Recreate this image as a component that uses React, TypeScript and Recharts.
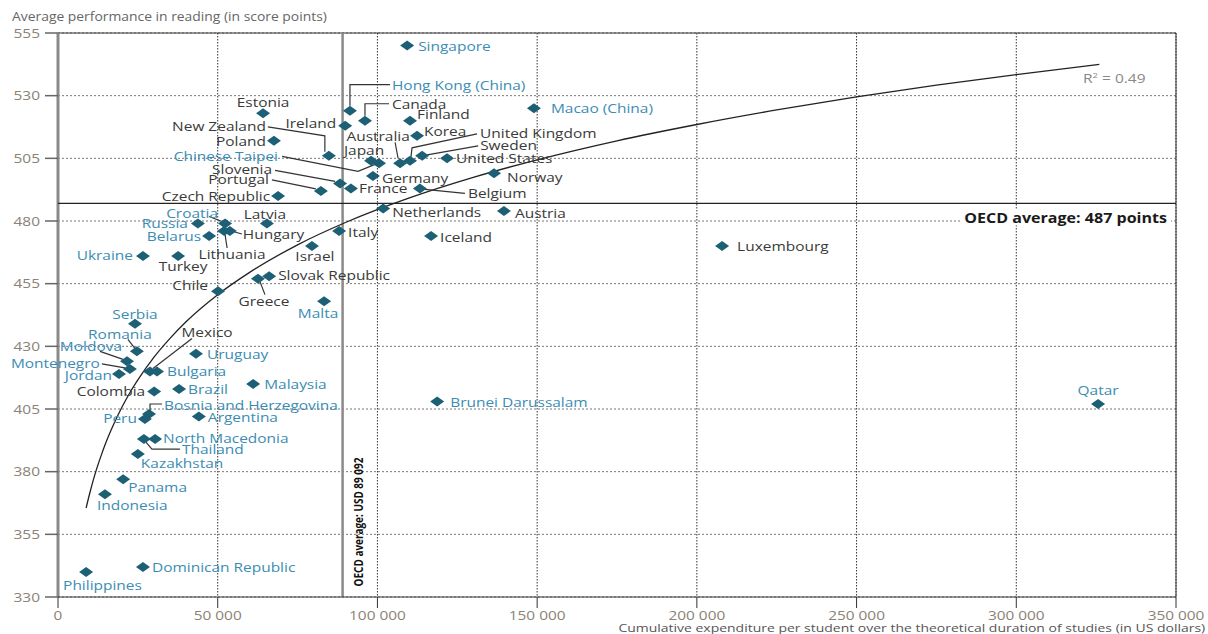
import React from 'react';
import { ScatterChart, Scatter, XAxis, YAxis, CartesianGrid, ReferenceLine } from 'recharts';

// ---------- DATA ----------
const xTicks = [0, 50000, 100000, 150000, 200000, 250000, 300000, 350000];
const yTicks = [330, 355, 380, 405, 430, 455, 480, 505, 530, 555];

const countryNames = [
  'Singapore', 'Hong Kong (China)', 'Canada', 'Ireland', 'Estonia', 'Finland', 'Korea', 'New Zealand',
  'Poland', 'Chinese Taipei', 'Japan', 'Australia', 'United Kingdom', 'Sweden', 'United States', 'Germany',
  'Slovenia', 'Portugal', 'France', 'Czech Republic', 'Belgium', 'Norway', 'Netherlands', 'Austria',
  'Macao (China)', 'Luxembourg', 'Qatar', 'Brunei Darussalam', 'Iceland', 'Italy', 'Israel', 'Latvia',
  'Croatia', 'Russia', 'Belarus', 'Hungary', 'Lithuania', 'Ukraine', 'Turkey', 'Slovak Republic',
  'Greece', 'Chile', 'Malta', 'Serbia', 'Romania', 'Moldova', 'Montenegro', 'Jordan',
  'Mexico', 'Bulgaria', 'Uruguay', 'Malaysia', 'Colombia', 'Brazil', 'Bosnia and Herzegovina', 'Peru',
  'Argentina', 'North Macedonia', 'Thailand', 'Kazakhstan', 'Panama', 'Indonesia', 'Dominican Republic', 'Philippines',
];

// Cumulative expenditure per student (USD)
const expenditure = [
  109300, 91400, 96100, 89900, 64200, 110200, 112400, 84800,
  67600, 100500, 98000, 107100, 110200, 114000, 121800, 98600,
  88300, 82300, 91700, 68900, 113300, 136500, 101800, 139600,
  149000, 207900, 325600, 118700, 116800, 88000, 79500, 65400,
  52300, 43800, 47300, 53800, 52000, 26600, 37600, 66100,
  62600, 50100, 83300, 24100, 24700, 21600, 22500, 19100,
  28800, 31000, 43200, 61100, 30100, 37900, 28500, 27200,
  44100, 30400, 26900, 25000, 20400, 14700, 26600, 8800,
];

// Average reading performance (score points)
const reading = [
  550, 524, 520, 518, 523, 520, 514, 506,
  512, 503, 504, 503, 504, 506, 505, 498,
  495, 492, 493, 490, 493, 499, 485, 484,
  525, 470, 407, 408, 474, 476, 470, 479,
  479, 479, 474, 476, 476, 466, 466, 458,
  457, 452, 448, 439, 428, 424, 421, 419,
  420, 420, 427, 415, 412, 413, 403, 401,
  402, 393, 393, 387, 377, 371, 342, 340,
];

const oecdMembers = [
  'Canada', 'Ireland', 'Estonia', 'Finland', 'Korea', 'New Zealand', 'Poland', 'Japan', 'Australia',
  'United Kingdom', 'Sweden', 'United States', 'Germany', 'Slovenia', 'Portugal', 'France', 'Czech Republic',
  'Belgium', 'Norway', 'Netherlands', 'Austria', 'Luxembourg', 'Iceland', 'Italy', 'Israel', 'Latvia',
  'Hungary', 'Lithuania', 'Turkey', 'Slovak Republic', 'Greece', 'Chile', 'Mexico', 'Colombia',
];

// Fitted trend curve
const trendX = [8800, 9500, 10000, 11000, 12000, 13500, 15000, 17500, 20000, 22500, 25000, 30000, 35000,
  40000, 50000, 60000, 75000, 90000, 110000, 130000, 150000, 175000, 200000, 225000, 250000, 275000, 300000, 326000];
const trendY = [365.5, 369.2, 371.7, 376.4, 380.7, 386.4, 391.6, 399.1, 405.7, 411.5, 416.6, 425.6, 433.1,
  439.7, 450.6, 459.5, 470.5, 479.4, 489.2, 497.4, 504.4, 512.0, 518.5, 524.3, 529.5, 534.2, 538.4, 542.5];

const oecdAvgExpenditure = 89092;
const oecdAvgReading = 487;

const countries = countryNames.map((name, i) => ({
  name, x: expenditure[i], y: reading[i], oecd: oecdMembers.includes(name),
}));
const trendData = trendX.map((x, i) => ({ x, y: trendY[i] }));

// ---------- LABEL LAYOUT (pixel offsets from each marker) ----------
type Lay = { dx: number; dy: number; anchor?: 'start' | 'end' | 'middle'; leader?: number[][] };
const labelLayout: Record<string, Lay> = {
  'Singapore': { dx: 11, dy: 0 },
  'Hong Kong (China)': { dx: 42, dy: -26, leader: [[0, -5], [0, -26], [40, -26]] },
  'Canada': { dx: 27, dy: -17, leader: [[0, -5], [0, -17], [24, -17]] },
  'Ireland': { dx: -9, dy: -3, anchor: 'end' },
  'Estonia': { dx: 0, dy: -11, anchor: 'middle' },
  'Finland': { dx: 7, dy: -7 },
  'Korea': { dx: 7, dy: -5 },
  'New Zealand': { dx: -63, dy: -30, anchor: 'end', leader: [[-4, -4], [-4, -20], [-61, -29]] },
  'Poland': { dx: -8, dy: 0, anchor: 'end' },
  'Chinese Taipei': { dx: -101, dy: -7, anchor: 'end', leader: [[-4, 1], [-21, 8], [-97, -7]] },
  'Japan': { dx: -7, dy: -11, anchor: 'middle' },
  'Australia': { dx: -22, dy: -27, anchor: 'middle', leader: [[-2, -5], [-5, -21]] },
  'United Kingdom': { dx: 70, dy: -28, leader: [[1, -4], [2, -13], [67, -27]] },
  'Sweden': { dx: 58, dy: -11, leader: [[5, -1], [56, -10]] },
  'United States': { dx: 9, dy: 0 },
  'Germany': { dx: 9, dy: 2 },
  'Slovenia': { dx: -68, dy: -14, anchor: 'end', leader: [[-5, -2], [-65, -13]] },
  'Portugal': { dx: -52, dy: -12, anchor: 'end', leader: [[-5, -2], [-49, -11]] },
  'France': { dx: 8, dy: 0 },
  'Czech Republic': { dx: -8, dy: 0, anchor: 'end' },
  'Belgium': { dx: 48, dy: 5, leader: [[5, 1], [45, 5]] },
  'Norway': { dx: 13, dy: 4 },
  'Netherlands': { dx: 9, dy: 4 },
  'Austria': { dx: 11, dy: 2 },
  'Macao (China)': { dx: 17, dy: 0 },
  'Luxembourg': { dx: 15, dy: 0 },
  'Qatar': { dx: 0, dy: -14, anchor: 'middle' },
  'Brunei Darussalam': { dx: 13, dy: 1 },
  'Iceland': { dx: 9, dy: 1 },
  'Italy': { dx: 9, dy: 1 },
  'Israel': { dx: 3, dy: 10, anchor: 'middle' },
  'Latvia': { dx: -2, dy: -10, anchor: 'middle' },
  'Croatia': { dx: -7, dy: -11, anchor: 'end', leader: [[-3, -2], [-16, -7]] },
  'Russia': { dx: -10, dy: -1, anchor: 'end' },
  'Belarus': { dx: -8, dy: 0, anchor: 'end' },
  'Hungary': { dx: 13, dy: 3, leader: [[5, 1], [12, 3]] },
  'Lithuania': { dx: 8, dy: 23, anchor: 'middle', leader: [[1, 4], [3, 17]] },
  'Ukraine': { dx: -10, dy: -1, anchor: 'end' },
  'Turkey': { dx: 5, dy: 10, anchor: 'middle' },
  'Slovak Republic': { dx: 9, dy: -1 },
  'Greece': { dx: 6, dy: 22, anchor: 'middle', leader: [[2, 3], [7, 16]] },
  'Chile': { dx: -10, dy: -6, anchor: 'end' },
  'Malta': { dx: -6, dy: 12, anchor: 'middle' },
  'Serbia': { dx: 0, dy: -10, anchor: 'middle' },
  'Romania': { dx: -17, dy: -17, anchor: 'middle', leader: [[-2, -3], [-9, -12]] },
  'Moldova': { dx: -5, dy: -15, anchor: 'end', leader: [[-4, -2], [-27, -10]] },
  'Montenegro': { dx: -30, dy: -6, anchor: 'end', leader: [[-5, -1], [-28, -5]] },
  'Jordan': { dx: -7, dy: 1, anchor: 'end' },
  'Mexico': { dx: 57, dy: -39, anchor: 'middle', leader: [[3, -3], [42, -33]] },
  'Bulgaria': { dx: 10, dy: 0 },
  'Uruguay': { dx: 11, dy: 0 },
  'Malaysia': { dx: 11, dy: 0 },
  'Colombia': { dx: -9, dy: 0, anchor: 'end' },
  'Brazil': { dx: 9, dy: 0 },
  'Bosnia and Herzegovina': { dx: 15, dy: -9, leader: [[1, -3], [1, -10], [13, -10]] },
  'Peru': { dx: -8, dy: -1, anchor: 'end' },
  'Argentina': { dx: 9, dy: 0 },
  'North Macedonia': { dx: 8, dy: -1 },
  'Thailand': { dx: 38, dy: 10, leader: [[2, 3], [8, 10], [36, 10]] },
  'Kazakhstan': { dx: 3, dy: 9 },
  'Panama': { dx: 5, dy: 8 },
  'Indonesia': { dx: -8, dy: 11 },
  'Dominican Republic': { dx: 9, dy: 0 },
  'Philippines': { dx: -23, dy: 13 },
};

// ---------- STYLES ----------
const FONT = '"Open Sans", "Noto Sans", sans-serif';
const BLUE = '#3b8cb3';
const DARK = '#3a3a3a';
const MARKER = '#1d6075';
const TICK_COLOR = '#8a8275';
const SX = 1.19; // horizontal stretch of the reference's lettering

const fmt = (v: number) => String(v).replace(/\B(?=(\d{3})+(?!\d))/g, ' ');

const renderPoint = (props: any) => {
  const { cx, cy, payload } = props;
  if (cx == null || cy == null) return <g />;
  const lay: Lay = labelLayout[payload.name] || { dx: 9, dy: 0 };
  const color = payload.oecd ? DARK : BLUE;
  return (
    <g>
      {lay.leader && (
        <polyline
          points={lay.leader.map(([a, b]) => `${cx + a},${cy + b}`).join(' ')}
          fill="none" stroke="#333" strokeWidth={1.2}
        />
      )}
      <polygon points={`${cx},${cy - 5} ${cx + 7},${cy} ${cx},${cy + 5} ${cx - 7},${cy}`} fill={MARKER} />
      <g transform={`translate(${cx + lay.dx},${cy + lay.dy}) scale(${SX},1)`}>
        <text x={0} y={0} textAnchor={lay.anchor || 'start'} dominantBaseline="central"
          fontSize={13} fill={color} fontFamily={FONT}>
          {payload.name}
        </text>
      </g>
    </g>
  );
};

const noShape = () => <g />;

const XTick = (props: any) => {
  const { x, y, payload } = props;
  return (
    <g transform={`translate(${x},${y}) scale(1.23,1)`}>
      <text x={0} y={0} dy="0.71em" textAnchor="middle" fontSize={12.5} fill={TICK_COLOR} fontFamily={FONT}>
        {fmt(payload.value)}
      </text>
    </g>
  );
};

const YTick = (props: any) => {
  const { x, y, payload } = props;
  return (
    <g transform={`translate(${x},${y}) scale(${SX},1)`}>
      <text x={0} y={0} dy="0.355em" textAnchor="end" fontSize={13} fill={TICK_COLOR} fontFamily={FONT}>
        {payload.value}
      </text>
    </g>
  );
};

const VerticalOecdLabel = (props: any) => {
  const vb = props.viewBox || {};
  const x = vb.x + 15;
  const y = vb.y + vb.height - 75;
  return (
    <g transform={`translate(${x},${y}) rotate(-90) scale(0.83,1.05)`}>
      <text x={0} y={0} textAnchor="middle" dominantBaseline="central"
        fontSize={12} fontWeight={700} fill="#111" fontFamily={FONT}>
        OECD average: USD 89 092
      </text>
    </g>
  );
};

const HorizontalOecdLabel = (props: any) => {
  const vb = props.viewBox || {};
  const right = vb.x + vb.width - 9;
  const y = vb.y + 14;
  return (
    <g>
      <rect x={right - 206} y={y - 8} width={210} height={16} fill="#fff" />
      <g transform={`translate(${right},${y}) scale(${SX},1)`}>
        <text x={0} y={0} textAnchor="end" dominantBaseline="central" fontSize={13.5} fontWeight={700}
          fill="#1a1a1a" fontFamily={FONT}>
          OECD average: 487 points
        </text>
      </g>
    </g>
  );
};

export default function App() {
  return (
    <div style={{ position: 'absolute', left: 0, top: 0, width: 1208, height: 634, background: '#fff', overflow: 'hidden' }}>
      <div style={{
        position: 'absolute', left: 12, top: 9, fontFamily: FONT, fontSize: 12.5, lineHeight: '16px', color: '#666',
        whiteSpace: 'nowrap', transform: 'scaleX(1.11)', transformOrigin: 'left center',
      }}>
        Average performance in reading (in score points)
      </div>
      <ScatterChart width={1208} height={634} margin={{ top: 33, right: 32, bottom: 0, left: 0 }}>
        <CartesianGrid vertical={false} stroke="#777" strokeDasharray="2 2" />
        <CartesianGrid horizontal={false} stroke="#333" strokeDasharray="1.5 1.5" />
        <XAxis type="number" dataKey="x" domain={[0, 350000]} ticks={xTicks} interval={0}
          height={37} tickSize={11} tickMargin={3}
          axisLine={{ stroke: '#333' }} tickLine={{ stroke: '#333' }} tick={<XTick />} />
        <YAxis type="number" dataKey="y" domain={[330, 555]} ticks={yTicks} interval={0}
          width={58} tickSize={13} tickMargin={5} axisLine={false} tickLine={{ stroke: '#666', strokeWidth: 1.5 }}
          tick={<YTick />} />
        <ReferenceLine y={555} stroke="#333" strokeWidth={1} />
        <ReferenceLine x={350000} stroke="#333" strokeWidth={1} />
        <ReferenceLine x={0} stroke="#8a8a8a" strokeWidth={3} />
        <ReferenceLine x={oecdAvgExpenditure} stroke="#8a8a8a" strokeWidth={2.5} label={<VerticalOecdLabel />} />
        <ReferenceLine y={oecdAvgReading} stroke="#222" strokeWidth={1.2} label={<HorizontalOecdLabel />} />
        <Scatter data={trendData} line={{ stroke: '#222', strokeWidth: 1.3 }} lineType="joint"
          lineJointType="monotoneX" shape={noShape} isAnimationActive={false} />
        <Scatter data={countries} shape={renderPoint} isAnimationActive={false} />
      </ScatterChart>
      <div style={{
        position: 'absolute', right: 3, top: 623, fontFamily: FONT, fontSize: 10.5, lineHeight: '11px', color: '#555',
        whiteSpace: 'nowrap', transform: 'scaleX(1.33)', transformOrigin: 'right center',
      }}>
        Cumulative expenditure per student over the theoretical duration of studies (in US dollars)
      </div>
      <div style={{
        position: 'absolute', left: 1083, top: 70, fontFamily: FONT, fontSize: 13, lineHeight: '17px', color: '#888',
        whiteSpace: 'nowrap', transform: `scaleX(${SX})`, transformOrigin: 'left center',
      }}>
        R<sup style={{ fontSize: 8, verticalAlign: '5px', lineHeight: 0 }}>2</sup> = 0.49
      </div>
    </div>
  );
}
